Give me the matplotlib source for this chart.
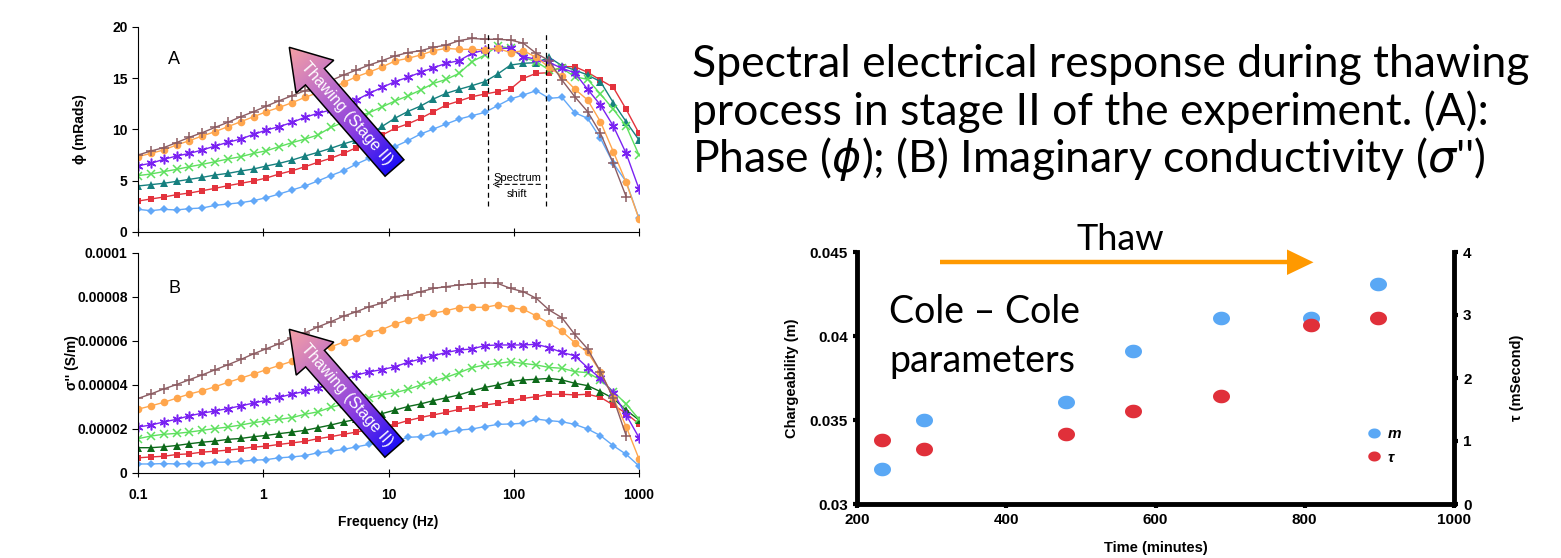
import numpy as np
import matplotlib
matplotlib.use('Agg')
from matplotlib import pyplot as plt
from matplotlib.patches import Polygon
from matplotlib.colors import LinearSegmentedColormap
from matplotlib.path import Path
from matplotlib.lines import Line2D
from matplotlib.ticker import FixedLocator, FuncFormatter, NullLocator, NullFormatter

plt.rcParams['font.family'] = ['Liberation Sans', 'DejaVu Sans']
plt.rcParams['axes.labelweight'] = 'bold'

W, H = 1561, 558

# frequencies (Hz), 40 points
freq = [0.1, 0.1266, 0.1603, 0.2030, 0.2572, 0.3257, 0.4125, 0.5224, 0.6615, 0.8377,
        1.061, 1.344, 1.701, 2.154, 2.728, 3.455, 4.375, 5.541, 7.017, 8.886,
        11.25, 14.25, 18.05, 22.86, 28.94, 36.65, 46.42, 58.78, 74.44, 94.27,
        119.4, 151.2, 191.5, 242.4, 307.0, 388.8, 492.4, 623.5, 789.6, 1000]

# (A) phase, mrad
phase_1 = [2.21, 2.08, 2.21, 2.15, 2.28, 2.34, 2.60, 2.73, 2.86, 3.06, 3.35, 3.71, 4.10, 4.49,
           4.98, 5.50, 5.98, 6.63, 7.19, 7.75, 8.33, 8.91, 9.56, 10.05, 10.54, 11.02, 11.35,
           11.67, 12.33, 12.98, 13.37, 13.79, 13.04, 13.14, 11.64, 11.09, 9.14, 6.70, 4.91, 1.33]
phase_2 = [3.02, 3.22, 3.41, 3.64, 3.80, 4.03, 4.26, 4.52, 4.75, 4.98, 5.27, 5.66, 5.98, 6.37,
           6.80, 7.19, 7.67, 8.23, 8.80, 9.45, 10.11, 10.54, 11.09, 11.74, 12.39, 12.78, 13.20,
           13.46, 13.69, 13.95, 14.99, 15.48, 15.54, 16.13, 16.13, 15.58, 14.83, 14.11, 11.97, 9.63]
phase_3 = [4.49, 4.62, 4.75, 4.94, 5.14, 5.33, 5.56, 5.72, 5.95, 6.15, 6.44, 6.70, 7.02, 7.41,
           7.77, 8.16, 8.59, 8.98, 9.46, 10.3, 11.1, 11.75, 12.29, 12.98, 13.53, 13.92, 14.28,
           14.67, 15.41, 16.29, 16.46, 16.52, 17.04, 16.23, 15.80, 15.32, 14.67, 12.62, 10.76, 8.98]
phase_4 = [5.50, 5.66, 5.89, 6.11, 6.37, 6.60, 6.86, 7.12, 7.35, 7.67, 7.93, 8.33, 8.72, 9.07,
           9.46, 10.2, 10.7, 11.2, 11.65, 12.2, 12.78, 13.27, 13.85, 14.50, 14.89, 15.48, 16.62,
           17.27, 18.15, 17.92, 17.04, 16.62, 15.80, 15.97, 15.15, 14.89, 13.46, 11.97, 10.34, 7.51]
phase_5 = [6.47, 6.70, 7.09, 7.41, 7.67, 8.00, 8.39, 8.75, 9.07, 9.53, 9.95, 10.28, 10.70, 11.19,
           11.58, 11.90, 12.29, 12.88, 13.53, 14.1, 14.67, 15.09, 15.58, 16.03, 16.46, 16.72, 17.43,
           17.76, 17.92, 17.92, 17.11, 16.85, 16.55, 15.97, 15.54, 13.92, 12.39, 10.34, 7.67, 4.20]
phase_6 = [7.35, 7.67, 8.00, 8.49, 8.91, 9.37, 9.79, 10.28, 10.76, 11.25, 11.74, 12.16, 12.62, 13.14,
           13.59, 14.02, 14.57, 15.15, 15.6, 16.1, 16.68, 16.94, 17.27, 17.69, 17.92, 17.82, 17.82,
           17.76, 17.92, 17.50, 17.69, 17.04, 16.07, 15.22, 13.95, 12.88, 10.76, 7.84, 4.85, 1.27]
phase_7 = [7.51, 7.90, 8.23, 8.72, 9.24, 9.69, 10.21, 10.70, 11.25, 11.74, 12.29, 12.81, 13.30, 13.79,
           14.24, 14.76, 15.32, 15.80, 16.29, 16.72, 17.17, 17.50, 17.69, 18.02, 18.24, 18.67, 18.89,
           18.80, 18.80, 18.73, 18.41, 17.43, 16.72, 14.83, 13.20, 11.74, 9.63, 6.70, 3.45, np.nan]

# (B) imaginary conductivity, in 1e-5 S/m
sigma_1 = [0.41, 0.41, 0.43, 0.41, 0.43, 0.43, 0.49, 0.49, 0.53, 0.58, 0.61, 0.69, 0.73, 0.79,
           0.92, 0.99, 1.07, 1.19, 1.30, 1.38, 1.42, 1.62, 1.65, 1.77, 1.85, 1.95, 2.00, 2.11,
           2.21, 2.23, 2.26, 2.45, 2.38, 2.33, 2.21, 2.00, 1.70, 1.24, 0.85, 0.32]
sigma_2 = [0.69, 0.73, 0.76, 0.84, 0.87, 0.95, 0.99, 1.04, 1.10, 1.18, 1.22, 1.30, 1.37, 1.44,
           1.56, 1.65, 1.76, 1.86, 1.98, 2.11, 2.21, 2.38, 2.52, 2.64, 2.76, 2.89, 2.97, 3.09,
           3.17, 3.27, 3.39, 3.47, 3.58, 3.58, 3.55, 3.58, 3.44, 3.09, 2.71, 2.23]
sigma_3 = [1.15, 1.15, 1.19, 1.25, 1.33, 1.40, 1.45, 1.53, 1.57, 1.65, 1.71, 1.79, 1.86, 1.94,
           2.06, 2.18, 2.32, 2.44, 2.58, 2.70, 2.86, 3.02, 3.14, 3.29, 3.42, 3.55, 3.73, 3.89,
           4.00, 4.15, 4.23, 4.26, 4.30, 4.23, 4.08, 3.97, 3.70, 3.39, 2.86, 2.41]
sigma_4 = [1.56, 1.68, 1.76, 1.80, 1.86, 1.94, 2.02, 2.09, 2.18, 2.29, 2.37, 2.44, 2.52, 2.67,
           2.78, 2.98, 3.13, 3.28, 3.42, 3.55, 3.65, 3.80, 4.00, 4.18, 4.35, 4.56, 4.79, 4.91,
           4.98, 5.06, 4.98, 4.91, 4.80, 4.76, 4.61, 4.56, 4.23, 3.70, 3.14, 2.44]
sigma_5 = [2.09, 2.18, 2.32, 2.44, 2.60, 2.72, 2.82, 2.93, 3.05, 3.18, 3.31, 3.44, 3.59, 3.71,
           3.86, 4.05, 4.24, 4.45, 4.60, 4.70, 4.83, 5.03, 5.18, 5.33, 5.48, 5.59, 5.64, 5.79,
           5.82, 5.82, 5.82, 5.85, 5.70, 5.48, 5.33, 4.79, 4.30, 3.65, 2.64, 1.61]
sigma_6 = [2.90, 3.05, 3.21, 3.40, 3.59, 3.74, 3.92, 4.12, 4.31, 4.50, 4.70, 4.89, 5.08, 5.31,
           5.54, 5.73, 5.95, 6.15, 6.38, 6.52, 6.77, 6.95, 7.11, 7.26, 7.38, 7.52, 7.53, 7.53,
           7.64, 7.52, 7.44, 7.14, 6.80, 6.45, 5.92, 5.48, 4.61, 3.42, 2.11, 0.64]
sigma_7 = [3.39, 3.59, 3.82, 4.02, 4.24, 4.46, 4.69, 4.92, 5.16, 5.42, 5.65, 5.88, 6.15, 6.37,
           6.64, 6.87, 7.13, 7.33, 7.56, 7.72, 8.02, 8.09, 8.24, 8.39, 8.47, 8.55, 8.59, 8.65,
           8.62, 8.39, 8.24, 7.94, 7.41, 7.06, 6.30, 5.64, 4.61, 3.40, 1.70, np.nan]

# Cole-Cole parameters
time_min = [233, 290, 480, 570, 688, 809, 898]
charge_m = [0.0321, 0.0350, 0.0361, 0.0391, 0.0411, 0.0411, 0.0431]
tau_ms = [1.01, 0.88, 1.11, 1.48, 1.71, 2.84, 2.96]

# colour, marker, size (panel A / panel B share them, except triangle colour)
styles = [('#62a8f8', 'D', 4.2), ('#e3323c', 's', 5.0), ('#16807f', '^', 5.5),
          ('#5ee05e', 'x', 5.5), ('#7a22f2', (6, 2, 0), 7.0), ('#ffa64d', 'o', 5.5),
          ('#8c5c62', '+', 7.0)]


def px_rect(x0, y0, x1, y1):
    return [x0 / W, 1 - y1 / H, (x1 - x0) / W, (y1 - y0) / H]


def bold_ticks(ax):
    for lab in ax.get_xticklabels() + ax.get_yticklabels():
        lab.set_fontweight('bold')


def style_freq_axis(ax):
    ax.set_xscale('log')
    ax.set_xlim(0.1, 1000)
    for s in ['top', 'right']:
        ax.spines[s].set_visible(False)
    ax.xaxis.set_major_locator(FixedLocator([0.1, 1, 10, 100, 1000]))
    ax.xaxis.set_minor_locator(NullLocator())
    ax.xaxis.set_minor_formatter(NullFormatter())
    ax.xaxis.set_major_formatter(FuncFormatter(lambda v, p: '%g' % v))
    ax.tick_params(axis='x', direction='inout', length=6, labelsize=10, pad=8)
    ax.tick_params(axis='y', direction='out', length=4, labelsize=10)


fig = plt.figure(figsize=(W / 100, H / 100), dpi=100)

# panel A
axA = fig.add_axes(px_rect(138, 27, 639, 232))
for vals, (col, mk, ms) in zip([phase_1, phase_2, phase_3, phase_4, phase_5, phase_6, phase_7], styles):
    mew = 1.1 if mk in ('x', '+') or isinstance(mk, tuple) else 0
    axA.plot(freq, vals, color=col, marker=mk, ms=ms, mew=mew, lw=1.0)
axA.set_ylim(0, 20)
axA.yaxis.set_major_locator(FixedLocator([0, 5, 10, 15, 20]))
style_freq_axis(axA)
axA.tick_params(axis='x', labelbottom=False)
axA.set_ylabel('ϕ (mRads)', fontsize=10)
axA.yaxis.set_label_coords(-0.102, 0.5)
axA.text(0.06, 0.84, 'A', transform=axA.transAxes, fontsize=13, va='center')

# spectrum shift marks
for fx in [62.5, 180]:
    axA.plot([fx, fx], [2.5, 19.5], color='black', ls=(0, (4, 3)), lw=0.9)
axA.annotate('', xy=(64, 4.65), xytext=(172, 4.65),
             arrowprops=dict(arrowstyle='->', ls=(0, (4, 3)), lw=0.8, color='black'))
axA.text(107, 5.25, 'Spectrum', fontsize=8, ha='center', va='center')
axA.text(107, 3.75, 'shift', fontsize=8, ha='center', va='center')

# panel B
axB = fig.add_axes(px_rect(138, 253, 639, 473))
for i, (vals, (col, mk, ms)) in enumerate(zip([sigma_1, sigma_2, sigma_3, sigma_4, sigma_5, sigma_6, sigma_7], styles)):
    if i == 2:
        col = '#0d6a1a'
    mew = 1.1 if mk in ('x', '+') or isinstance(mk, tuple) else 0
    axB.plot(freq, np.array(vals) * 1e-5, color=col, marker=mk, ms=ms, mew=mew, lw=1.0)
axB.set_ylim(0, 1e-4)
axB.yaxis.set_major_locator(FixedLocator([0, 2e-5, 4e-5, 6e-5, 8e-5, 1e-4]))
axB.yaxis.set_major_formatter(FuncFormatter(lambda v, p: f'{v:.5f}'.rstrip('0').rstrip('.')))
style_freq_axis(axB)
axB.set_ylabel("σ'' (S/m)", fontsize=10)
axB.yaxis.set_label_coords(-0.118, 0.5)
axB.set_xlabel('Frequency (Hz)', fontsize=10, labelpad=9)
axB.text(0.06, 0.84, 'B', transform=axB.transAxes, fontsize=13, va='center')

# Cole-Cole scatter
ang = np.linspace(0, 2 * np.pi, 60)
ellipse = Path(np.column_stack([1.25 * np.cos(ang), np.sin(ang)]), closed=True)

axC = fig.add_axes(px_rect(857, 252, 1454, 504))
axC.scatter(time_min, charge_m, marker=ellipse, s=150, color='#5aa8f5', lw=0)
axC.set_xlim(200, 1000)
axC.set_ylim(0.03, 0.045)
axC.xaxis.set_major_locator(FixedLocator([200, 400, 600, 800, 1000]))
axC.yaxis.set_major_locator(FixedLocator([0.03, 0.035, 0.04, 0.045]))
axC.yaxis.set_major_formatter(FuncFormatter(lambda v, p: '%g' % v))
axC.set_xlabel('Time (minutes)', fontsize=10.5, labelpad=10)
axC.set_ylabel('Chargeability (m)', fontsize=10.5, labelpad=8)

axT = axC.twinx()
axT.scatter(time_min, tau_ms, marker=ellipse, s=150, color='#e0303a', lw=0)
axT.set_ylim(0, 4)
axT.yaxis.set_major_locator(FixedLocator([0, 1, 2, 3, 4]))
axT.set_ylabel('τ (mSecond)', fontsize=10.5, labelpad=28)

for s in ['top', 'right']:
    axC.spines[s].set_visible(False)
for s in ['top', 'left', 'bottom']:
    axT.spines[s].set_visible(False)
for a in (axC, axT):
    for sp in a.spines.values():
        sp.set_linewidth(3.5)
    a.tick_params(width=3, length=3, labelsize=11)

leg_handles = [Line2D([], [], ls='', marker=ellipse, ms=9, color='#5aa8f5', mew=0),
               Line2D([], [], ls='', marker=ellipse, ms=9, color='#e0303a', mew=0)]
axT.legend(leg_handles, ['m', 'τ'], loc='center', bbox_to_anchor=(1384 / W, 1 - 446 / H),
           bbox_transform=fig.transFigure, frameon=False, handletextpad=0.4, labelspacing=0.6,
           prop=dict(weight='bold', style='italic', size=11), handlelength=1.0)

for a in (axA, axB, axC, axT):
    bold_ticks(a)

# overlay in pixel space for text and arrows
ov = fig.add_axes([0, 0, 1, 1], zorder=10)
ov.patch.set_alpha(0)
ov.axis('off')

thaw_cmap = LinearSegmentedColormap.from_list('thaw', ['#1e0ff5', '#8a3de0', '#c070c8', '#f5a0a4'])


def thaw_arrow(tail, tip):
    tail = np.array(tail, float)
    tip = np.array(tip, float)
    d = tip - tail
    L = np.hypot(*d)
    u = d / L
    n = np.array([-u[1], u[0]])
    base = tip - u * 39
    pts = [tail + n * 12.5, base + n * 12.5, base + n * 25, tip,
           base - n * 25, base - n * 12.5, tail - n * 12.5]
    poly = Polygon(pts, closed=True, facecolor='none', edgecolor='black', lw=1.1, zorder=12)
    ov.add_patch(poly)
    xs = [p[0] for p in pts]
    ys = [p[1] for p in pts]
    gx, gy = np.meshgrid(np.linspace(min(xs), max(xs), 200), np.linspace(min(ys), max(ys), 200))
    t = ((gx - tail[0]) * u[0] + (gy - tail[1]) * u[1]) / L
    im = ov.imshow(t, cmap=thaw_cmap, vmin=0, vmax=1, origin='lower', aspect='auto',
                   extent=(min(xs), max(xs), min(ys), max(ys)), zorder=11)
    im.set_clip_path(poly)
    c = tail + 0.45 * d
    rot = np.degrees(np.arctan2(-(tail[1] - tip[1]), tail[0] - tip[0]))
    ov.text(c[0], c[1], 'Thawing (Stage II)', color='white', fontsize=11.5,
            rotation=rot, rotation_mode='anchor', ha='center', va='center', zorder=13)


thaw_arrow((394.5, 168), (289.3, 47.3))
thaw_arrow((394.3, 449), (289.3, 329.3))

big = dict(family=['Lato', 'DejaVu Sans'], color='black')
ov.text(692, 77, 'Spectral electrical response during thawing', fontsize=32, va='baseline', **big)
ov.text(692, 125, 'process in stage II of the experiment. (A):', fontsize=32, va='baseline', **big)
ov.text(692, 172, "Phase ($\\phi$); (B) Imaginary conductivity ($\\sigma$'')", fontsize=32,
        va='baseline', **big)
ov.text(1120, 250, 'Thaw', fontsize=26, ha='center', va='baseline', **big)
ov.text(889, 323, 'Cole – Cole', fontsize=27, va='baseline', **big)
ov.text(889, 372, 'parameters', fontsize=27, va='baseline', **big)

ov.plot([940, 1290], [262.3, 262.3], color='#ff9900', lw=3.2, solid_capstyle='butt')
ov.add_patch(Polygon([(1287, 249.5), (1313.5, 262.3), (1287, 275)], closed=True,
                     facecolor='#ff9900', edgecolor='none'))

ov.set_xlim(0, W)
ov.set_ylim(H, 0)

fig.savefig('out.png', dpi=100, facecolor='white')
